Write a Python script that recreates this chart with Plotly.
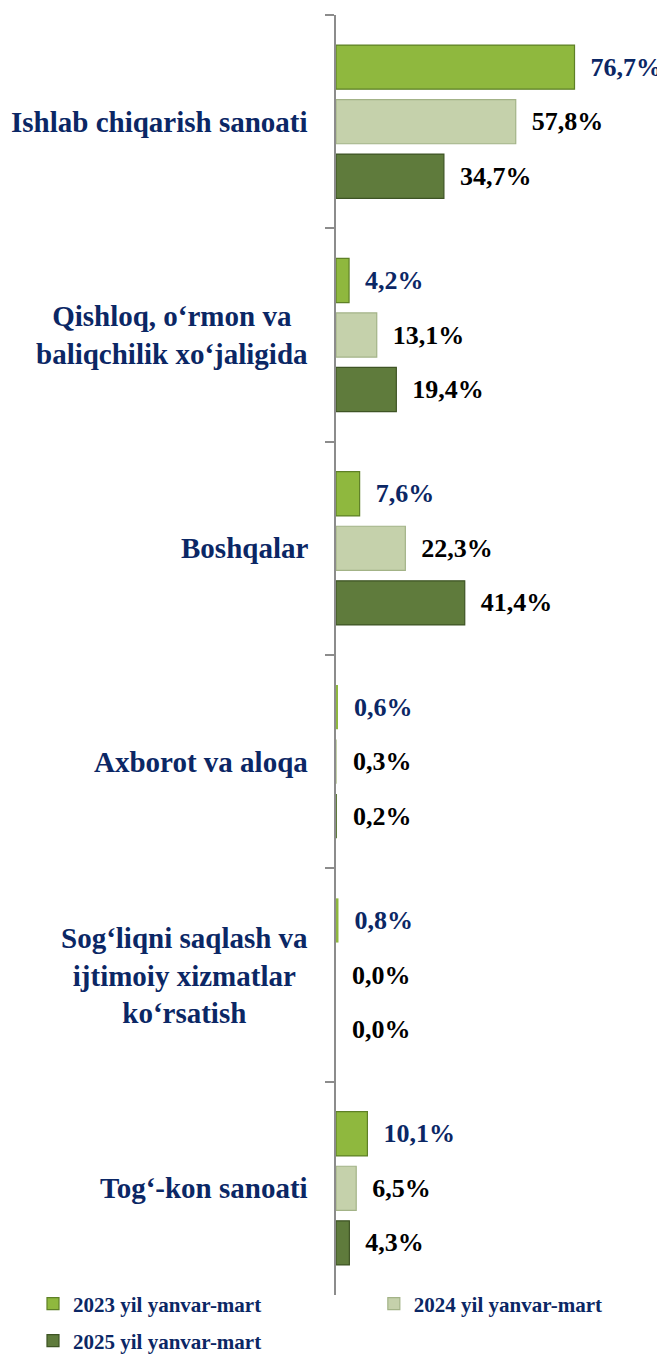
import plotly.graph_objects as go

categories = [
    "Ishlab chiqarish sanoati",
    "Qishloq, o‘rmon va<br>baliqchilik xo‘jaligida",
    "Boshqalar",
    "Axborot va aloqa",
    "Sog‘liqni saqlash va<br>ijtimoiy xizmatlar<br>ko‘rsatish",
    "Tog‘-kon sanoati",
]
series_names = ["2023 yil yanvar-mart", "2024 yil yanvar-mart", "2025 yil yanvar-mart"]
values_2023 = [76.7, 4.2, 7.6, 0.6, 0.8, 10.1]
values_2024 = [57.8, 13.1, 22.3, 0.3, 0.0, 6.5]
values_2025 = [34.7, 19.4, 41.4, 0.2, 0.0, 4.3]

NAVY = "#0B2765"
fills = ["#8FB83E", "#C5D1AB", "#5F7B3C"]
edges = ["#5E8026", "#A3B387", "#3E5424"]
label_colors = [NAVY, "#000000", "#000000"]
FONT = "Liberation Serif, Times New Roman, serif"
legend_ids = ["legend", "legend2", "legend3"]

fig = go.Figure()
all_vals = [values_2023, values_2024, values_2025]
for i, (name, vals) in enumerate(zip(series_names, all_vals)):
    fig.add_trace(go.Bar(
        y=categories, x=vals, name=name, orientation="h",
        marker=dict(color=fills[i],
                    line=dict(color=edges[i],
                              width=[1.2 if v >= 1 else 0 for v in vals])),
        text=["\u00a0\u00a0" + f"{v:.1f}".replace(".", ",") + "%" for v in vals],
        textposition="outside", cliponaxis=False,
        textfont=dict(family=FONT, size=26, color=label_colors[i], weight="bold"),
        legend=legend_ids[i],
        hoverinfo="skip",
    ))

for c in categories:
    fig.add_annotation(
        x=0, xref="paper", y=c, yref="y", xanchor="right", yanchor="middle",
        xshift=-26, text=c, showarrow=False, align="center",
        font=dict(family=FONT, size=29, color=NAVY, weight="bold"),
    )

legend_font = dict(family=FONT, size=21, color=NAVY, weight="bold")
def leg(x, y):
    return dict(orientation="h", x=x, xanchor="left", y=y, yanchor="top",
                font=legend_font, bgcolor="rgba(0,0,0,0)", itemclick=False,
                borderwidth=0)

# page body adds an 8px margin, so the figure is 8px smaller than the window
fig.update_layout(
    width=657, height=1348,
    margin=dict(l=328, r=0, t=7, b=61, autoexpand=False),
    paper_bgcolor="white", plot_bgcolor="white",
    barmode="group", bargap=0.233, bargroupgap=0.19,
    xaxis=dict(range=[0, 105.8], visible=False, fixedrange=True),
    yaxis=dict(autorange="reversed", showticklabels=False, showline=True,
               linecolor="#8C8C8C", linewidth=1.5, ticks="outside",
               tickson="boundaries", ticklen=9, tickcolor="#8C8C8C",
               tickwidth=1.5, showgrid=False, zeroline=False),
    legend=leg(-0.921, 0.009),
    legend2=leg(0.115, 0.009),
    legend3=leg(-0.921, -0.0199),
    showlegend=True,
)

fig.write_html("out.html")
